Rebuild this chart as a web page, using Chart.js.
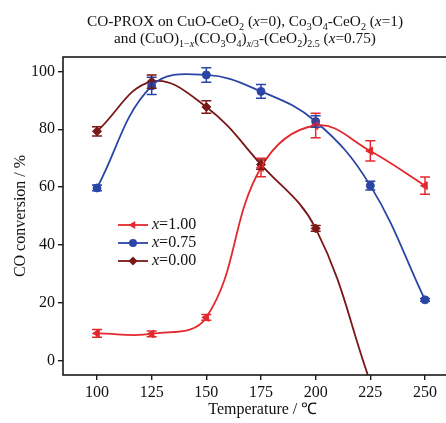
<!DOCTYPE html>
<html><head><meta charset="utf-8">
<script src="https://cdn.jsdelivr.net/npm/chart.js@4.4.1/dist/chart.umd.min.js"></script>
<style>
html,body{margin:0;padding:0;background:#fff;overflow:hidden;}
#wrap{position:relative;width:446px;height:423px;overflow:hidden;}
#c{position:absolute;left:0;top:0;}
#title{position:absolute;left:0;top:14px;width:446px;padding-left:44px;box-sizing:border-box;text-align:center;font-family:'Liberation Serif',serif;font-size:15.3px;line-height:14.5px;color:#111;white-space:nowrap;}
.s{font-size:10px;position:relative;top:4px;}
i{font-style:italic;}
</style></head><body>
<div id="wrap"><canvas id="c" width="468" height="423"></canvas>
<div id="title">CO-PROX on CuO-CeO<span class="s">2</span> (<i>x</i>=0), Co<span class="s">3</span>O<span class="s">4</span>-CeO<span class="s">2</span> (<i>x</i>=1)<br>and (CuO)<span class="s">1−<i>x</i></span>(CO<span class="s">3</span>O<span class="s">4</span>)<span class="s"><i>x</i>/3</span>-(CeO<span class="s">2</span>)<span class="s">2.5</span> (<i>x</i>=0.75)</div>
</div>
<script>
const temps = [100, 125, 150, 175, 200, 225, 250];
const xTicks = [100, 125, 150, 175, 200, 225, 250];
const yTicks = [0, 20, 40, 60, 80, 100];
const seriesLabels = ['=1.00', '=0.75', '=0.00'];
const conv100 = [9.4, 9.2, 14.9, 66.8, 81.3, 72.5, 60.5];
const err100 = [1.3, 1.0, 1.0, 3.2, 4.2, 3.5, 3.0];
const conv075 = [59.7, 95.0, 98.8, 93.1, 82.7, 60.5, 21.0];
const err075 = [1.0, 3.0, 2.5, 2.4, 2.0, 1.5, 0.5];
const conv000 = [79.3, 96.5, 87.7, 67.8, 45.7, -7.5];
const err000 = [1.6, 2.3, 2.2, 1.6, 1.0, null];

const colors = ['#e3292e', '#2b45a6', '#7a1717'];
const styles = [
  {pointStyle: 'triangle', rotation: -90, radius: 4.5},
  {pointStyle: 'circle', rotation: 0, radius: 4},
  {pointStyle: 'rectRot', rotation: 0, radius: 4.5}
];
const errSets = [err100, err075, err000];
const valSets = [conv100, conv075, conv000];

function mkData(vals) { return vals.map((v, i) => ({x: temps[i], y: v})); }

const datasets = valSets.map((vals, k) => ({
  label: 'x' + seriesLabels[k],
  data: mkData(vals),
  borderColor: colors[k],
  backgroundColor: colors[k],
  borderWidth: 1.8,
  pointStyle: styles[k].pointStyle,
  rotation: styles[k].rotation,
  pointRadius: styles[k].radius,
  pointHoverRadius: styles[k].radius,
  pointBorderWidth: 1,
  tension: 0.4,
  fill: false
}));

function drawMarker(ctx, style, x, y, r) {
  ctx.beginPath();
  if (style === 'circle') {
    ctx.arc(x, y, r, 0, Math.PI * 2);
  } else if (style === 'triangle') {
    ctx.moveTo(x - r, y); ctx.lineTo(x + r * 0.5, y - r * 0.866); ctx.lineTo(x + r * 0.5, y + r * 0.866);
    ctx.closePath();
  } else {
    ctx.moveTo(x, y - r); ctx.lineTo(x + r, y); ctx.lineTo(x, y + r); ctx.lineTo(x - r, y); ctx.closePath();
  }
  ctx.fill();
}

const extras = {
  id: 'extras',
  afterDatasetsDraw(chart) {
    const {ctx, chartArea} = chart;
    const xs = chart.scales.x, ys = chart.scales.y;
    ctx.save();
    ctx.beginPath();
    ctx.rect(chartArea.left, chartArea.top, chartArea.right - chartArea.left, chartArea.bottom - chartArea.top);
    ctx.clip();
    chart.data.datasets.forEach((ds, i) => {
      const errs = errSets[i];
      ctx.strokeStyle = ds.borderColor;
      ctx.lineWidth = 1.5;
      ds.data.forEach((p, j) => {
        const e = errs[j];
        if (e == null) return;
        const x = xs.getPixelForValue(p.x);
        const y1 = ys.getPixelForValue(p.y + e), y2 = ys.getPixelForValue(p.y - e);
        ctx.beginPath();
        ctx.moveTo(x, y1); ctx.lineTo(x, y2);
        ctx.moveTo(x - 5, y1); ctx.lineTo(x + 5, y1);
        ctx.moveTo(x - 5, y2); ctx.lineTo(x + 5, y2);
        ctx.stroke();
      });
    });
    ctx.restore();
    // frame
    ctx.save();
    ctx.strokeStyle = '#1a1a1a';
    ctx.lineWidth = 1.6;
    ctx.strokeRect(chartArea.left, chartArea.top, chartArea.right - chartArea.left, chartArea.bottom - chartArea.top);
    ctx.restore();
    // legend
    ctx.save();
    const lx0 = 118, lx1 = 148, ly0 = 225, dy = 18;
    chart.data.datasets.forEach((ds, i) => {
      const y = ly0 + i * dy;
      ctx.strokeStyle = ds.borderColor; ctx.fillStyle = ds.borderColor; ctx.lineWidth = 1.8;
      ctx.beginPath(); ctx.moveTo(lx0, y); ctx.lineTo(lx1, y); ctx.stroke();
      drawMarker(ctx, styles[i].pointStyle, (lx0 + lx1) / 2, y, styles[i].radius);
      ctx.fillStyle = '#111';
      ctx.textBaseline = 'middle';
      ctx.font = 'italic 16px "Liberation Serif"';
      ctx.fillText('x', 152, y);
      const w = ctx.measureText('x').width;
      ctx.font = '16px "Liberation Serif"';
      ctx.fillText(seriesLabels[i], 152 + w, y);
    });
    ctx.restore();
  }
};

const tickFont = {family: 'Liberation Serif', size: 16};
new Chart(document.getElementById('c'), {
  type: 'line',
  data: {datasets},
  options: {
    responsive: false,
    devicePixelRatio: 1,
    animation: false,
    layout: {padding: {top: 57, right: 0, left: 0, bottom: 0}},
    plugins: {legend: {display: false}, tooltip: {enabled: false}},
    scales: {
      x: {
        type: 'linear', min: 84.45, max: 267.15,
        afterBuildTicks: s => { s.ticks = xTicks.map(v => ({value: v})); },
        afterFit: s => { s.height = 48; s.paddingLeft = 0; s.paddingRight = 0; },
        grid: {drawOnChartArea: false, drawTicks: true, tickLength: 5, color: '#1a1a1a', lineWidth: 1.4},
        border: {display: false},
        ticks: {font: tickFont, color: '#111', padding: 3, maxRotation: 0},
        title: {display: true, text: 'Temperature / ℃', font: {family: 'Liberation Serif', size: 16}, color: '#111', padding: {top: 0, bottom: 4}}
      },
      y: {
        type: 'linear', min: -5, max: 105,
        afterBuildTicks: s => { s.ticks = yTicks.map(v => ({value: v})); },
        afterFit: s => { s.width = 63; s.paddingTop = 0; s.paddingBottom = 0; },
        grid: {drawOnChartArea: false, drawTicks: true, tickLength: 5, color: '#1a1a1a', lineWidth: 1.4},
        border: {display: false},
        ticks: {font: tickFont, color: '#111', padding: 3},
        title: {display: true, text: 'CO conversion / %', font: {family: 'Liberation Serif', size: 16}, color: '#111', padding: {top: 11, bottom: 0}}
      }
    }
  },
  plugins: [extras]
});
</script>
</body></html>
